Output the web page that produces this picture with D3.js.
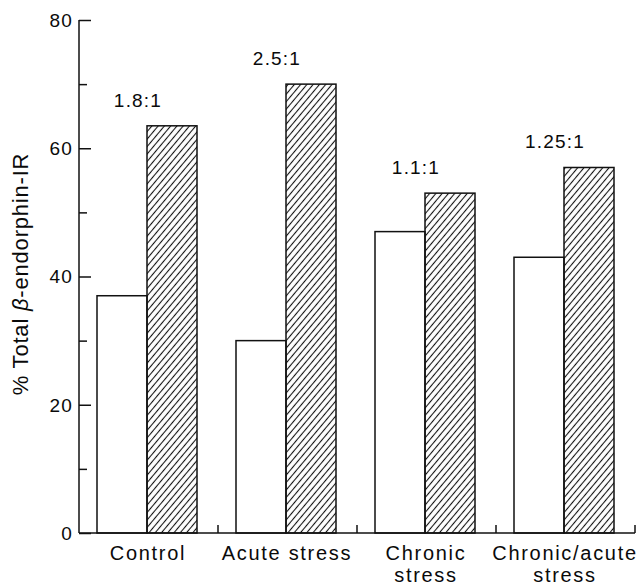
<!DOCTYPE html>
<html>
<head>
<meta charset="utf-8">
<script src="https://cdn.jsdelivr.net/npm/d3@7"></script>
<style>
  html, body { margin: 0; padding: 0; background: #fff; }
  svg { display: block; }
  text { font-family: "Liberation Sans", Arial, Helvetica, sans-serif; fill: #0a0a0a; }
</style>
</head>
<body>
<script>
// ---- data ----
const categories = ["Control", "Acute stress", "Chronic stress", "Chronic/acute stress"];
const categoryLines = [["Control"], ["Acute stress"], ["Chronic", "stress"], ["Chronic/acute", "stress"]];
const seriesKeys = ["open", "hatched"];
const openValues = [37, 30, 47, 43];
const hatchedValues = [63.5, 70, 53, 57];
const ratioLabels = ["1.8:1", "2.5:1", "1.1:1", "1.25:1"];
const yMajorTicks = [0, 20, 40, 60, 80];
const yMinorTicks = [10, 30, 50, 70];
const yTitleParts = [["% Total ", false], ["\u03B2", true], ["-endorphin-IR", false]];

// ---- layout ----
const W = 638, H = 587;
const svg = d3.select("body").append("svg").attr("width", W).attr("height", H);

const defs = svg.append("defs");
const pat = defs.append("pattern")
  .attr("id", "hatch")
  .attr("patternUnits", "userSpaceOnUse")
  .attr("width", 4.8).attr("height", 10)
  .attr("patternTransform", "rotate(40)");
pat.append("line").attr("x1", 2.4).attr("x2", 2.4).attr("y1", 0).attr("y2", 10)
  .attr("stroke", "#111").attr("stroke-width", 1.1);

const x0 = d3.scaleBand().domain(categories).range([79, 635]).padding(0);
const x1 = d3.scaleBand().domain(seriesKeys).range([18, 118]).padding(0);
const y = d3.scaleLinear().domain([0, 80]).range([533, 20]);

const data = categories.map((c, i) => ({
  cat: c, lines: categoryLines[i], ratio: ratioLabels[i],
  vals: [{ key: "open", v: openValues[i] }, { key: "hatched", v: hatchedValues[i] }]
}));

// bars
const g = svg.append("g");
const groups = g.selectAll("g.grp").data(data).join("g")
  .attr("transform", d => `translate(${x0(d.cat)},0)`);
groups.selectAll("rect").data(d => d.vals).join("rect")
  .attr("x", d => x1(d.key))
  .attr("y", d => y(d.v))
  .attr("width", x1.bandwidth())
  .attr("height", d => y(0) - y(d.v))
  .attr("fill", d => d.key === "hatched" ? "url(#hatch)" : "#fff")
  .attr("stroke", "#111")
  .attr("stroke-width", 1.5);

// ratio labels
groups.append("text")
  .attr("x", x1.range()[0] + (x1.range()[1] - x1.range()[0]) / 2 - 9)
  .attr("y", d => y(d.vals[1].v) - 19)
  .attr("text-anchor", "middle")
  .style("font-size", "19px")
  .style("letter-spacing", "1.2px")
  .text(d => d.ratio);

// y axis (ticks pointing inward)
const yAxisMajor = d3.axisRight(y).tickValues(yMajorTicks).tickSize(12).tickFormat("");
const yAxisMinor = d3.axisRight(y).tickValues(yMinorTicks).tickSize(8).tickFormat("");
const ya = svg.append("g").attr("transform", "translate(79,0)").call(yAxisMajor);
svg.append("g").attr("transform", "translate(79,0)").call(yAxisMinor).select(".domain").remove();
svg.selectAll(".tick line").attr("stroke", "#111").attr("stroke-width", 1.5);
ya.select(".domain").attr("stroke", "#111").attr("stroke-width", 1.5).attr("d", `M0,${y(80)}H0V${y(0)}`);

// y tick labels
svg.append("g").selectAll("text").data(yMajorTicks).join("text")
  .attr("x", 73).attr("y", d => y(d)).attr("dy", "0.36em")
  .attr("text-anchor", "end")
  .style("font-size", "19px")
  .style("letter-spacing", "1.2px")
  .text(d => d);

// x axis baseline with group-separator ticks
const xAxis = d3.axisTop(x0).tickSize(0).tickFormat("");
const xa = svg.append("g").attr("transform", `translate(0,${y(0)})`).call(xAxis);
xa.select(".domain").attr("stroke", "#111").attr("stroke-width", 1.5).attr("d", `M79,0H635`);
xa.selectAll(".tick").remove();
xa.selectAll("line.sep").data(categories).join("line")
  .attr("class", "sep")
  .attr("x1", d => x0(d) + x0.bandwidth()).attr("x2", d => x0(d) + x0.bandwidth())
  .attr("y1", 0).attr("y2", -8)
  .attr("stroke", "#111").attr("stroke-width", 1.5);

// x category labels
const xl = svg.append("g").selectAll("text").data(data).join("text")
  .attr("x", d => x0(d.cat) + (x1.range()[0] + x1.range()[1]) / 2 + 1)
  .attr("y", 560)
  .attr("text-anchor", "middle")
  .style("font-size", "20px")
  .style("letter-spacing", "1.7px");
xl.selectAll("tspan").data(d => d.lines.map(t => ({ t, x: x0(d.cat) + (x1.range()[0] + x1.range()[1]) / 2 + 1 })))
  .join("tspan")
  .attr("x", d => d.x)
  .attr("dy", (d, i) => i === 0 ? 0 : 22.3)
  .text(d => d.t);

// y title
const yt = svg.append("text")
  .attr("transform", "translate(28,274) rotate(-90)")
  .attr("text-anchor", "middle")
  .style("font-size", "22px")
  .style("letter-spacing", "0.8px");
yt.selectAll("tspan").data(yTitleParts).join("tspan")
  .style("font-style", d => d[1] ? "italic" : "normal")
  .text(d => d[0]);
</script>
</body>
</html>
